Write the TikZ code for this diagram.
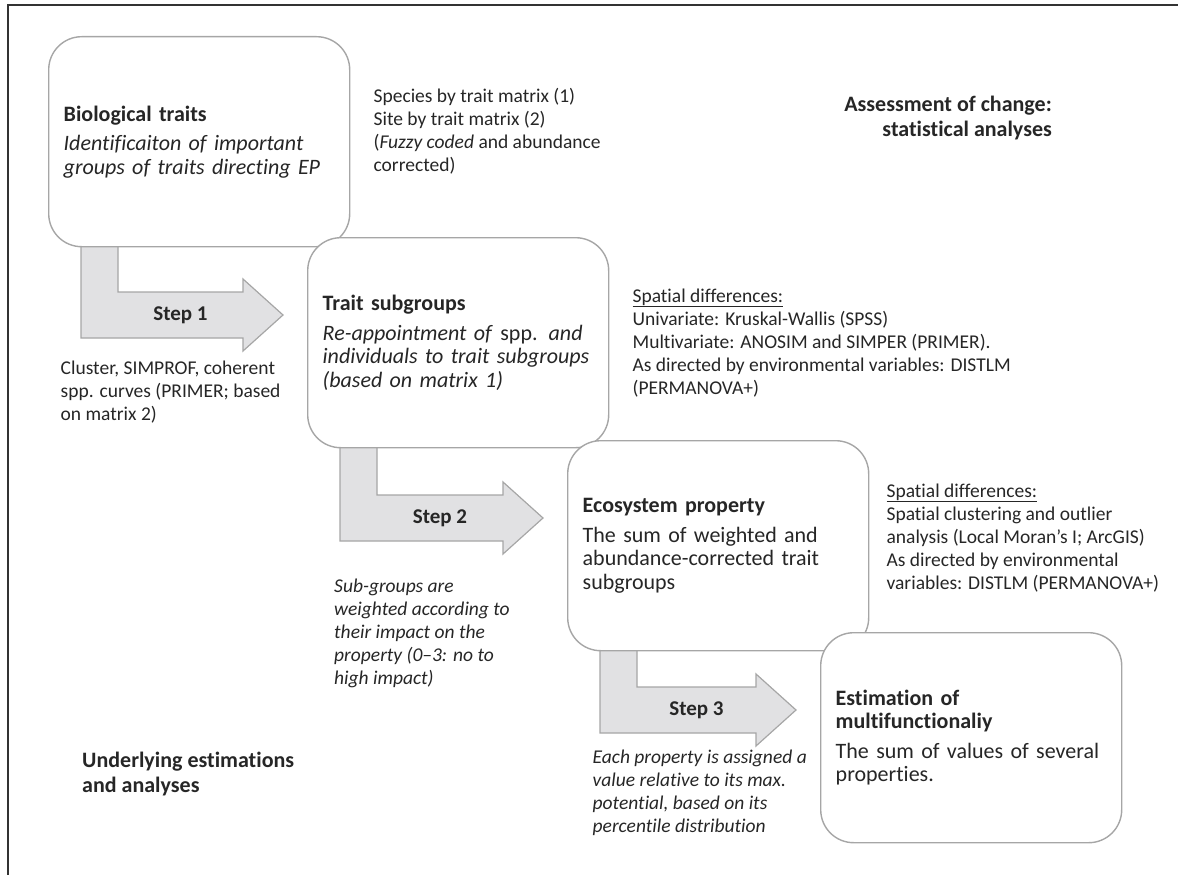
\documentclass[tikz,border=0pt]{standalone}
\usepackage{fontspec}
\setmainfont{Carlito}[Ligatures=NoCommon]
\usetikzlibrary{positioning,calc,backgrounds}

\definecolor{boxline}{HTML}{A6A6A6}
\definecolor{arrowfill}{HTML}{E1E1E3}
\definecolor{framecol}{HTML}{333333}
\definecolor{txt}{HTML}{262626}

\tikzset{
  stagebox/.style={draw=boxline, line width=1.4pt, fill=white, rounded corners=33pt,
    minimum width=301pt, minimum height=210pt, text width=271pt, inner xsep=15pt,
    inner ysep=0pt, align=left, anchor=north west, text=txt,
    font=\fontsize{22}{23.5}\selectfont},
  note/.style={align=left, inner sep=0pt, text=txt, font=\fontsize{19.5}{23}\selectfont},
  slanted note/.style={note, font=\itshape\fontsize{19.5}{23}\selectfont},
  heading/.style={note, font=\bfseries\fontsize{22}{25}\selectfont},
  steparrow/.style={draw=boxline, line width=1.2pt, fill=arrowfill},
  steplabel/.style={text=txt, inner sep=0pt, font=\bfseries\fontsize{21}{24}\selectfont}
}

\begin{document}
\begin{tikzpicture}[x=1pt, y=-1pt]
  \useasboundingbox (0,0) rectangle (1178,875);
  \draw[framecol, line width=2pt] (8,875) -- (8,5) -- (1178,5);

  % the four stages
  \node[stagebox] (bio) at (48,36) {\textbf{Biological traits}\\[6pt]
    \textit{Identificaiton of important\\groups of traits directing EP}};
  \node[stagebox] (trait) at (307,237) {\textbf{Trait subgroups}\\[6pt]
    \textit{Re-appointment of} spp. \textit{and\\individuals to trait subgroups\\(based on matrix 1)}};
  \node[stagebox] (eco) at (567,440) {\textbf{Ecosystem property}\\[6pt]
    The sum of weighted and\\abundance-corrected trait\\subgroups};
  \node[stagebox] (multi) at (820,632) {\textbf{Estimation of\\multifunctionaliy}\\[6pt]
    The sum of values of several\\properties.};

  % bent arrows between the stages
  \begin{scope}[on background layer]
    \foreach \a/\b/\k in {bio/trait/1, trait/eco/2, eco/multi/3}{
      \path[steparrow] let \p1=(\a.south west), \p2=(\b.north west) in
        (\x1+33pt,\y1+4pt) -- (\x1+33pt,\y2-101pt) -- (\x2-64pt,\y2-101pt)
        -- (\x2-64pt,\y2-114pt) -- (\x2-24pt,\y2-78pt) -- (\x2-64pt,\y2-42pt)
        -- (\x2-64pt,\y2-55pt) -- (\x1+70pt,\y2-55pt) -- (\x1+70pt,\y1+4pt) -- cycle
        node[steplabel] (step\k) at ({(\x1+\x2+6pt)/2},\y2-78pt) {Step \k};
    }
  \end{scope}

  % notes beside the stages
  \node[note, right=23pt of bio, yshift=10pt] (matrices) {Species by trait matrix (1)\\
    Site by trait matrix (2)\\(\textit{Fuzzy coded} and abundance\\corrected)};
  \node[note, right=23pt of trait] (spatialA) {\underline{Spatial differences:}\\
    Univariate: Kruskal-Wallis (SPSS)\\Multivariate: ANOSIM and SIMPER (PRIMER).\\
    As directed by environmental variables: DISTLM\\(PERMANOVA+)};
  \node[note, right=17pt of eco, yshift=8pt] (spatialB) {\underline{Spatial differences:}\\
    Spatial clustering and outlier\\analysis (Local Moran’s I; ArcGIS)\\
    As directed by environmental\\variables: DISTLM (PERMANOVA+)};

  % notes under the steps
  \node[note, anchor=north west] (cluster) at ($(step1)+(-120,46)$)
    {Cluster, SIMPROF, coherent\\spp. curves (PRIMER; based\\on matrix 2)};
  \node[slanted note, anchor=north west] (weights) at ($(step2)+(-106,61)$)
    {Sub-groups are\\weighted according to\\their impact on the\\property (0–3: no to\\high impact)};
  \node[slanted note, anchor=north west] (values) at ($(step3)+(-104,40)$)
    {Each property is assigned a\\value relative to its max.\\potential, based on its\\percentile distribution};

  % headings
  \node[heading, align=right, anchor=north east] (assess) at (1052,96)
    {Assessment of change:\\statistical analyses};
  \node[heading, anchor=north west] (under) at (82,752)
    {Underlying estimations\\and analyses};
\end{tikzpicture}
\end{document}
